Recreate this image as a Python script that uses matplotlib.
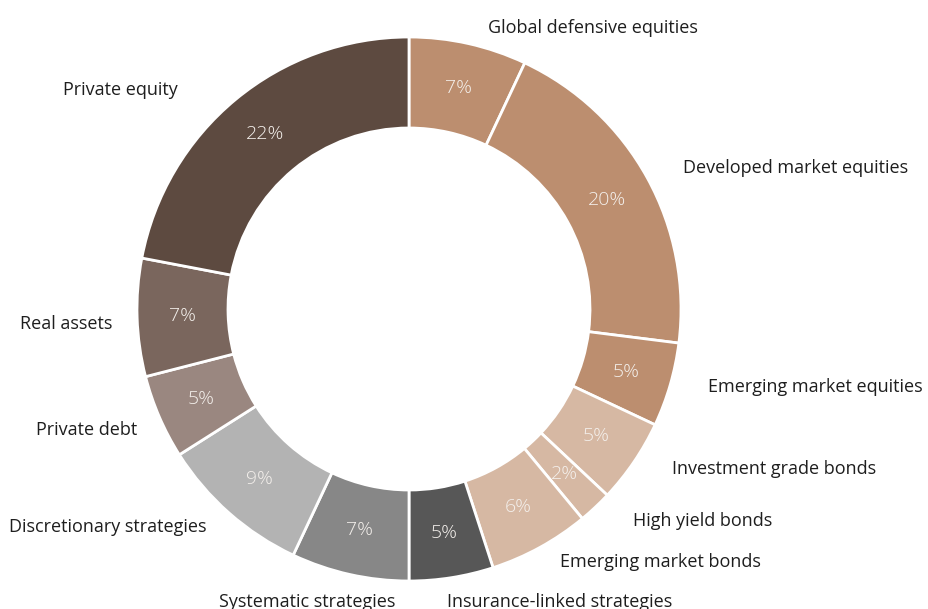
"""
Strategic asset allocation donut chart.
"""

import matplotlib.pyplot as plt

categories = [
    "Global defensive equities",
    "Developed market equities",
    "Emerging market equities",
    "Investment grade bonds",
    "High yield bonds",
    "Emerging market bonds",
    "Insurance-linked strategies",
    "Systematic strategies",
    "Discretionary strategies",
    "Private debt",
    "Real assets",
    "Private equity",
]
weights = [7, 20, 5, 5, 2, 6, 5, 7, 9, 5, 7, 22]

colors = [
    "#bc8e6f", "#bc8e6f", "#bc8e6f",
    "#d6b8a3", "#d6b8a3", "#d6b8a3",
    "#575757", "#878787", "#b3b3b3",
    "#9a8780", "#7a665d", "#5d4a40",
]

# label anchors in pixel space (x, y from top, horizontal alignment)
label_pos = [
    (488, 28, "left"),
    (683, 168, "left"),
    (708, 387, "left"),
    (672, 469, "left"),
    (633, 521, "left"),
    (560, 562, "left"),
    (447, 602, "left"),
    (395, 602, "right"),
    (207, 527, "right"),
    (137, 430, "right"),
    (112, 324, "right"),
    (178, 90, "right"),
]

W, H = 929, 609
plt.rcParams["font.family"] = ["Open Sans", "DejaVu Sans"]

fig = plt.figure(figsize=(W / 100, H / 100), dpi=100)
ax = fig.add_axes([0, 0, 1, 1])

outer, inner = 272, 181
cx, cy = 409, H - 309

wedges, texts, autotexts = ax.pie(
    weights,
    colors=colors,
    startangle=90,
    counterclock=False,
    radius=outer,
    center=(cx, cy),
    autopct=lambda p: f"{p:.0f}%",
    pctdistance=(outer + inner) / 2 / outer,
    wedgeprops=dict(width=outer - inner, edgecolor="white", linewidth=2),
    textprops=dict(color="#f4f0ec", fontsize=14, fontweight="light"),
    frame=True,
)
ax.set_xlim(0, W)
ax.set_ylim(0, H)
ax.set_aspect("equal")
ax.axis("off")

for name, (x, y, ha) in zip(categories, label_pos):
    ax.text(x, H - y, name, ha=ha, va="center", fontsize=13, color="#1e1e1e")

fig.savefig("out.png", dpi=100, facecolor="white")
